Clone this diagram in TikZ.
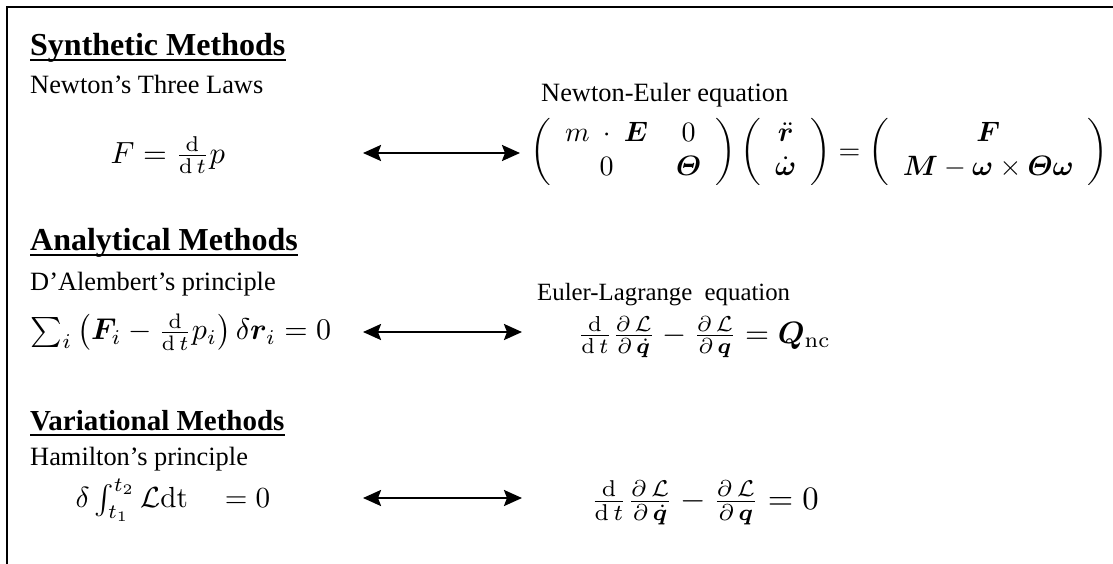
\documentclass[tikz,border=0pt]{standalone}
\usepackage{amsmath,bm}
\usepackage[no-math]{fontspec}
\setmainfont{Liberation Serif}
\usetikzlibrary{arrows.meta}
\tikzset{
  head/.style={anchor=base west,inner sep=0pt,font=\fontsize{32}{36}\selectfont\bfseries},
  sub/.style={anchor=base west,inner sep=0pt,font=\fontsize{26.4}{30}\selectfont},
  eqn/.style={anchor=west,inner sep=0pt,scale=3.0},
  uline/.style={line width=1.8pt},
  equiv/.style={line width=2.4pt,{Stealth[length=18pt,width=16pt,inset=3pt]}-{Stealth[length=18pt,width=16pt,inset=3pt]}}
}
\begin{document}
\begin{tikzpicture}[x=1pt,y=-1pt]
\useasboundingbox (0,0) rectangle (1113,563);
\draw[line width=2.5pt] (7,575) -- (7,7) -- (1125,7);
% Synthetic
\node[head] (h1) at (30,55) {Synthetic Methods};
\draw[uline] ([yshift=-5pt]h1.base west) -- ([yshift=-5pt]h1.base east);
\node[sub] (s1) at (30,93) {Newton’s Three Laws};
\node[eqn,scale=1.02] (e1) at (110,155) {$F=\frac{\mathrm{d}}{\mathrm{d}\,t}p$};
\node[sub] (s1r) at (541,101) {Newton-Euler equation};
\node[eqn,scale=0.933] (e1r) at (530,152) {$\left(\begin{array}{cc} m\ \cdot\ \bm{E} & 0\\ 0 & \bm{\varTheta}\end{array}\right)\left(\begin{array}{c}\ddot{\bm{r}}\\ \dot{\bm{\omega}}\end{array}\right)=\left(\begin{array}{c}\bm{F}\\ \bm{M}-\bm{\omega}\times\bm{\varTheta}\bm{\omega}\end{array}\right)$};
\coordinate (a1l) at (363,153);
\coordinate (a1r) at (520,153);
\draw[equiv] (a1l) -- (a1r);
% Analytical
\node[head] (h2) at (30,250) {Analytical Methods};
\draw[uline] ([yshift=-5pt]h2.base west) -- ([yshift=-5pt]h2.base east);
\node[sub] (s2) at (30,290) {D’Alembert’s principle};
\node[eqn] (e2) at (30,332) {$\sum_i\left(\bm{F}_i-\frac{\mathrm{d}}{\mathrm{d}\,t}p_i\right)\delta\bm{r}_i=0$};
\node[sub,font=\fontsize{24.8}{28}\selectfont] (s2r) at (537,300) {Euler-Lagrange\ \ equation};
\node[eqn,scale=1.03] (e2r) at (577,337) {$\frac{\mathrm{d}}{\mathrm{d}\,t}\frac{\partial\,\mathcal{L}}{\partial\,\dot{\bm{q}}}-\frac{\partial\,\mathcal{L}}{\partial\,\bm{q}}=\bm{Q}_{\mathrm{nc}}$};
\coordinate (a2l) at (363,332);
\coordinate (a2r) at (522,332);
\draw[equiv] (a2l) -- (a2r);
% Variational
\node[head,font=\fontsize{29}{33}\selectfont\bfseries] (h3) at (30,430) {Variational Methods};
\draw[uline] ([yshift=-5pt]h3.base west) -- ([yshift=-5pt]h3.base east);
\node[sub] (s3) at (30,465) {Hamilton’s principle};
\node[eqn,scale=0.97] (e3) at (75,500) {$\delta\int_{t_1}^{t_2}\mathcal{L}\mathrm{dt}\quad=0$};
\node[eqn,scale=1.09] (e3r) at (590,503) {$\frac{\mathrm{d}}{\mathrm{d}\,t}\frac{\partial\,\mathcal{L}}{\partial\,\dot{\bm{q}}}-\frac{\partial\,\mathcal{L}}{\partial\,\bm{q}}=0$};
\coordinate (a3l) at (363,498);
\coordinate (a3r) at (522,498);
\draw[equiv] (a3l) -- (a3r);
\end{tikzpicture}
\end{document}
